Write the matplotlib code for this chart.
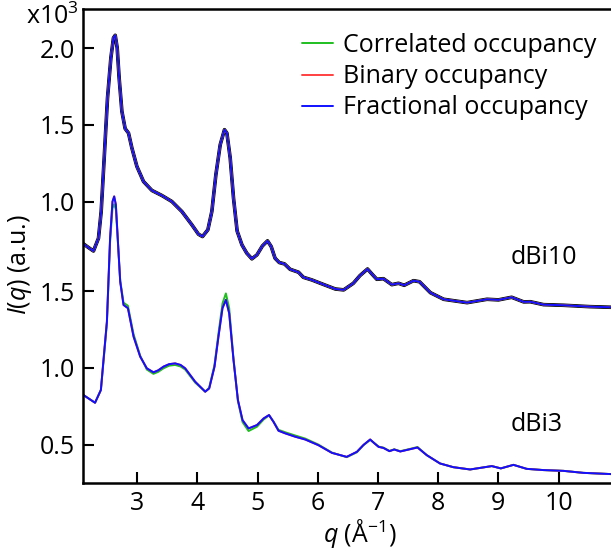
import numpy as np
import matplotlib
matplotlib.use("Agg")
import matplotlib.pyplot as plt

plt.rcParams['font.family'] = ['Open Sans', 'DejaVu Sans']
plt.rcParams['mathtext.fontset'] = 'custom'
plt.rcParams['mathtext.rm'] = 'Open Sans'
plt.rcParams['mathtext.it'] = 'Open Sans:italic'

# dBi10 (upper set), intensity in units of 1e3
q_10 = [2.108, 2.20, 2.274, 2.357, 2.402, 2.452, 2.507, 2.563, 2.606, 2.635,
        2.668, 2.70, 2.746, 2.80, 2.856, 2.912, 2.995, 3.105, 3.244, 3.41,
        3.576, 3.742, 3.909, 4.018, 4.085, 4.174, 4.24, 4.307, 4.379, 4.45,
        4.49, 4.545, 4.60, 4.66, 4.74, 4.82, 4.905, 4.99, 5.08, 5.165,
        5.226, 5.29, 5.36, 5.447, 5.54, 5.68, 5.76, 5.90, 6.07, 6.29,
        6.43, 6.59, 6.70, 6.826, 6.90, 6.98, 7.09, 7.23, 7.34, 7.435,
        7.59, 7.69, 7.87, 8.09, 8.48, 8.81, 9.0, 9.22, 9.42, 9.53,
        9.75, 10.08, 10.52, 10.87]
i_10 = [0.726, 0.70, 0.68, 0.763, 0.937, 1.285, 1.675, 1.936, 2.066, 2.083,
        2.001, 1.806, 1.588, 1.476, 1.447, 1.35, 1.23, 1.132, 1.074, 1.041,
        1.002, 0.937, 0.85, 0.789, 0.774, 0.818, 0.937, 1.176, 1.371, 1.469,
        1.447, 1.285, 1.024, 0.81, 0.72, 0.666, 0.629, 0.655, 0.713, 0.746,
        0.709, 0.633, 0.605, 0.596, 0.561, 0.542, 0.509, 0.492, 0.466, 0.433,
        0.427, 0.47, 0.52, 0.563, 0.53, 0.496, 0.50, 0.461, 0.47, 0.457,
        0.487, 0.48, 0.409, 0.366, 0.344, 0.366, 0.362, 0.379, 0.349, 0.35,
        0.331, 0.327, 0.318, 0.314]

# dBi3 (lower set)
q_3 = [2.108, 2.20, 2.30, 2.397, 2.44, 2.497, 2.55, 2.59, 2.618, 2.646,
       2.68, 2.718, 2.773, 2.846, 2.94, 3.05, 3.16, 3.27, 3.35, 3.437,
       3.53, 3.63, 3.72, 3.797, 3.963, 4.13, 4.196, 4.284, 4.35, 4.417,
       4.473, 4.528, 4.60, 4.673, 4.75, 4.85, 4.99, 5.10, 5.19, 5.264,
       5.347, 5.458, 5.625, 5.79, 6.01, 6.234, 6.48, 6.65, 6.76, 6.87,
       6.94, 7.01, 7.09, 7.19, 7.27, 7.37, 7.535, 7.656, 7.81, 8.03,
       8.25, 8.53, 8.89, 9.04, 9.25, 9.47, 9.75, 10.08, 10.41, 10.87]
i_3_frac = [0.824, 0.80, 0.774, 0.857, 1.05, 1.302, 1.845, 2.083, 2.116, 2.062,
            1.823, 1.562, 1.41, 1.389, 1.204, 1.074, 0.998, 0.972, 0.985, 1.009,
            1.025, 1.03, 1.02, 0.998, 0.911, 0.846, 0.867, 1.008, 1.204, 1.389,
            1.443, 1.356, 1.052, 0.792, 0.661, 0.607, 0.629, 0.672, 0.694, 0.65,
            0.592, 0.575, 0.553, 0.535, 0.498, 0.448, 0.422, 0.455, 0.50, 0.535,
            0.51, 0.487, 0.48, 0.459, 0.47, 0.457, 0.472, 0.483, 0.433, 0.379,
            0.355, 0.34, 0.362, 0.347, 0.37, 0.344, 0.336, 0.331, 0.318, 0.31]
i_3_corr = [0.824, 0.80, 0.774, 0.857, 1.04, 1.29, 1.82, 2.04, 2.065, 2.03,
            1.815, 1.57, 1.425, 1.405, 1.22, 1.08, 0.99, 0.962, 0.975, 0.998,
            1.015, 1.02, 1.01, 0.99, 0.905, 0.846, 0.872, 1.02, 1.225, 1.42,
            1.485, 1.39, 1.06, 0.785, 0.648, 0.59, 0.618, 0.665, 0.692, 0.652,
            0.598, 0.582, 0.561, 0.541, 0.502, 0.45, 0.42, 0.452, 0.498, 0.532,
            0.512, 0.489, 0.482, 0.461, 0.471, 0.459, 0.474, 0.486, 0.433, 0.379,
            0.355, 0.34, 0.362, 0.347, 0.37, 0.344, 0.336, 0.331, 0.318, 0.31]
i_3_bin = i_3_frac

offset = 1.081
labels = ['Correlated occupancy', 'Binary occupancy', 'Fractional occupancy']
colors = ['#1fbf1f', '#ff4040', '#1010ff']

fig = plt.figure(figsize=(6.11, 5.53), dpi=100)
ax = fig.add_axes([83 / 611, 70 / 553, 1 - 83 / 611, 474 / 553])

lk = dict(lw=1.4, solid_joinstyle='round', solid_capstyle='round')
up = np.array(i_10) + offset
ax.plot(q_10, up, color='black', lw=2.6, solid_joinstyle='round')
for c in colors:
    ax.plot(q_10, up, color=c, **lk)

ax.plot(q_3, i_3_corr, color=colors[0], label=labels[0], **lk)
ax.plot(q_3, i_3_bin, color=colors[1], label=labels[1], **lk)
ax.plot(q_3, i_3_frac, color=colors[2], label=labels[2], **lk)

ax.set_xlim(2.1, 10.87)
ax.set_ylim(0.252, 3.335)
ax.set_xticks([3, 4, 5, 6, 7, 8, 9, 10])
yt = [0.5, 1.0, 1.5, 1.0 + offset, 1.5 + offset, 2.0 + offset]
ax.set_yticks(yt)
ax.set_yticklabels(['0.5', '1.0', '1.5', '1.0', '1.5', '2.0'])
ax.tick_params(direction='in', length=8, width=1.5, labelsize=18, pad=6)
ax.spines['right'].set_visible(False)
for s in ['left', 'bottom', 'top']:
    ax.spines[s].set_linewidth(1.8)

ax.set_xlabel(r'$q$ (Å$^{-1}$)', fontsize=18)
ax.xaxis.set_label_coords((360 - 83) / 528, -(517 - 483) / 474)
ax.set_ylabel(r'$I$($q$) (a.u.)', fontsize=18)
ax.yaxis.set_label_coords((34 - 83) / 528, (483 - 265) / 474)
fig.text(79 / 611, 1 - 17 / 553, r'x10$^3$', fontsize=18, ha='right', va='center')

ax.text(9.2, 0.635 + offset, 'dBi10', fontsize=18, va='center')
ax.text(9.2, 0.63, 'dBi3', fontsize=18, va='center')

ax.legend(loc='upper left', bbox_to_anchor=(302 / 611, 1 - 33 / 553),
          bbox_transform=fig.transFigure, frameon=False, fontsize=18,
          handlelength=1.25, handletextpad=0.4, labelspacing=0.25,
          borderpad=0, borderaxespad=0)

fig.savefig('out.png', dpi=100)
